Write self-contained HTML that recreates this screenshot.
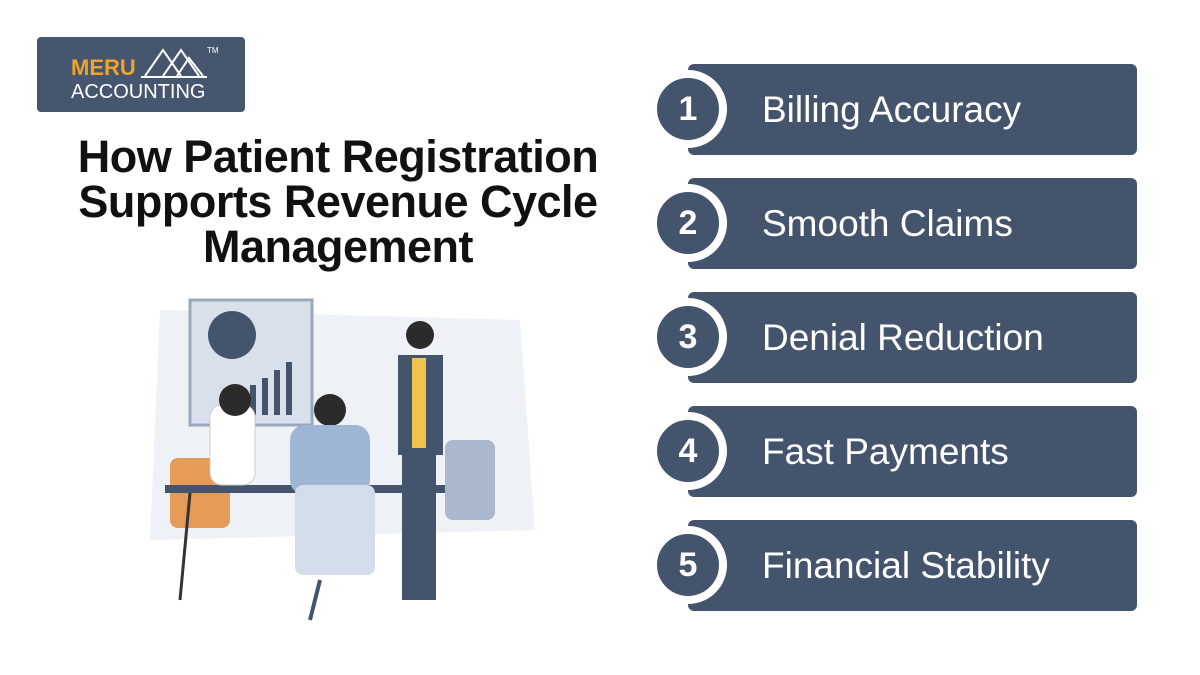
<!DOCTYPE html>
<html><head><meta charset="utf-8"><style>
body{margin:0;width:1200px;height:675px;background:#fff;position:relative;overflow:hidden;font-family:"Liberation Sans",Arial,sans-serif}
.logo{position:absolute;left:37px;top:37px;width:208px;height:75px;background:#46566f;border-radius:4px}
.bar{position:absolute;left:688px;width:449px;height:91px;background:#44546c;border-radius:6px}
.bar span{position:absolute;left:74px;top:0;line-height:91px;color:#fff;font-size:37px}
.c{position:absolute;left:-30px;top:15px;width:62px;height:62px;border-radius:50%;background:#44546c;border:8px solid #fff;margin:-9px;color:#fff;font-weight:bold;font-size:34px;text-align:center;line-height:62px}
h1{position:absolute;left:38px;width:600px;top:134px;margin:0;text-align:center;font-size:45px;line-height:45px;font-weight:bold;color:#111;letter-spacing:-0.5px}
</style></head><body>
<div class="logo">
<div style="position:absolute;left:34px;top:18px;color:#f0a32a;font-weight:bold;font-size:22px">MERU</div>
<svg style="position:absolute;left:104px;top:5px" width="70" height="38"><g fill="none" stroke="#fff" stroke-width="2"><path d="M4 34 L22 8 L40 34 M22 34 L40 8 L58 34 M36 34 L48 16 L62 34 M0 35 H66"/></g></svg>
<div style="position:absolute;left:170px;top:9px;color:#fff;font-size:8px">TM</div>
<div style="position:absolute;left:34px;top:44px;color:#fff;font-size:20px">ACCOUNTING</div>
</div>
<h1>How Patient Registration<br>Supports Revenue Cycle<br>Management</h1>
<svg style="position:absolute;left:140px;top:290px" width="400" height="340">
<polygon points="20,20 380,30 395,240 10,250" fill="#eef1f6"/>
<rect x="50" y="10" width="122" height="125" fill="#d8e0ec" stroke="#9aa8bc" stroke-width="3"/>
<circle cx="92" cy="45" r="24" fill="#44546c"/>
<g fill="#44546c"><rect x="110" y="95" width="6" height="30"/><rect x="122" y="88" width="6" height="37"/><rect x="134" y="80" width="6" height="45"/><rect x="146" y="72" width="6" height="53"/></g>
<rect x="30" y="168" width="60" height="70" rx="8" fill="#e39b57"/>
<rect x="25" y="195" width="300" height="8" fill="#44546c"/>
<rect x="70" y="115" width="45" height="80" rx="12" fill="#fff" stroke="#ccc"/>
<circle cx="95" cy="110" r="16" fill="#2b2b2b"/>
<circle cx="190" cy="120" r="16" fill="#2b2b2b"/>
<rect x="150" y="135" width="80" height="70" rx="15" fill="#9fb5d4"/>
<rect x="155" y="195" width="80" height="90" rx="8" fill="#d3dcea"/>
<circle cx="280" cy="45" r="14" fill="#2b2b2b"/>
<rect x="258" y="65" width="45" height="100" fill="#44546c"/>
<rect x="272" y="68" width="14" height="90" fill="#f2c14e"/>
<rect x="262" y="160" width="34" height="150" fill="#44546c"/>
<rect x="305" y="150" width="50" height="80" rx="8" fill="#a9b8cd"/>
<line x1="180" y1="290" x2="170" y2="330" stroke="#44546c" stroke-width="4"/>
<line x1="50" y1="203" x2="40" y2="310" stroke="#333" stroke-width="3"/>
</svg>
<div class="bar" style="top:64px"><div class="c">1</div><span>Billing Accuracy</span></div>
<div class="bar" style="top:178px"><div class="c">2</div><span>Smooth Claims</span></div>
<div class="bar" style="top:292px"><div class="c">3</div><span>Denial Reduction</span></div>
<div class="bar" style="top:406px"><div class="c">4</div><span>Fast Payments</span></div>
<div class="bar" style="top:520px"><div class="c">5</div><span>Financial Stability</span></div>
</body></html>
